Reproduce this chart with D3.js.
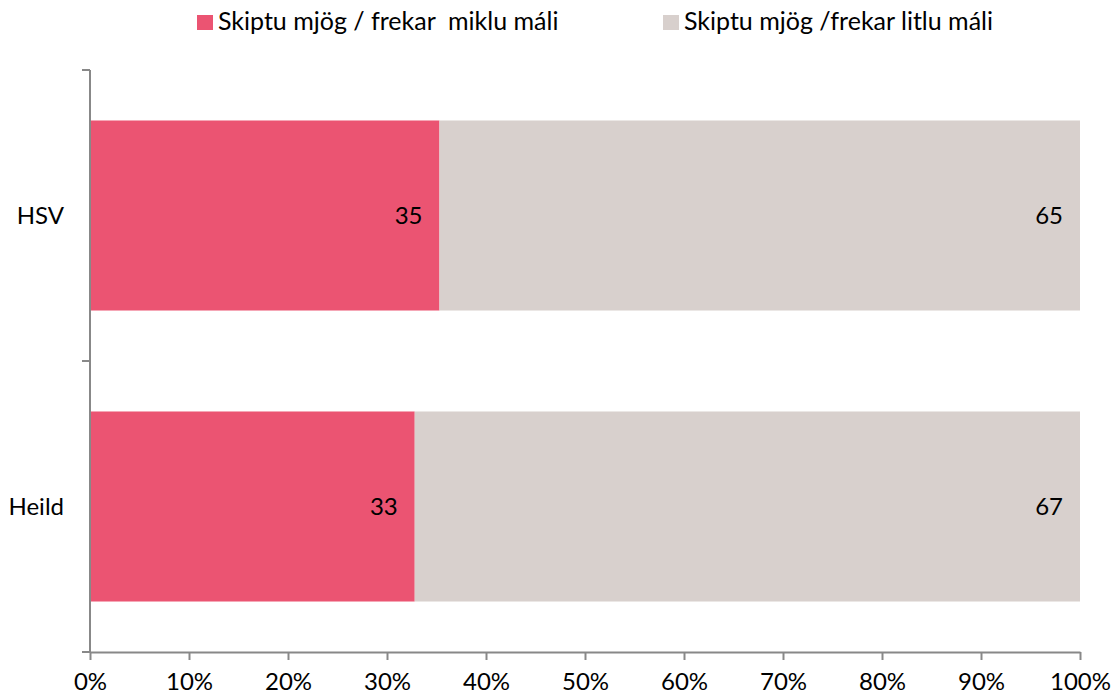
<!DOCTYPE html>
<html><head><meta charset="utf-8">
<script src="https://cdn.jsdelivr.net/npm/d3@7"></script>
<style>body{margin:0;background:#fff}svg{display:block}text{font-family:Lato,"Liberation Sans",Arial,sans-serif;fill:#000;white-space:pre}</style>
</head><body><svg id="c" width="1113" height="696"></svg>
<script>
const categories = ["HSV", "Heild"];
const seriesNames = ["Skiptu mjög / frekar  miklu máli", "Skiptu mjög /frekar litlu máli"];
const seriesHigh = [35.3, 32.8];
const seriesLow = [64.7, 67.2];
const labelsHigh = ["35", "33"];
const labelsLow = ["65", "67"];
const xTicks = [0,10,20,30,40,50,60,70,80,90,100];
const colors = ["#EB5472", "#D8D0CD"];

const svg = d3.select("#c");
const x = d3.scaleLinear().domain([0,100]).range([90,1080]);
const y = d3.scaleBand().domain(categories).range([70,652]).paddingInner(0.347).paddingOuter(0.1735);
const yb = d3.scaleBand().domain(categories).range([70,652]);

const rows = categories.map((c,i)=>({cat:c, vals:[seriesHigh[i], seriesLow[i]], labs:[labelsHigh[i], labelsLow[i]]}));
rows.forEach(r=>{
  let acc=0;
  r.vals.forEach((v,k)=>{
    const x0 = x(acc), x1 = x(acc+v);
    svg.append("rect").attr("x",x0).attr("y",y(r.cat)).attr("width",x1-x0).attr("height",y.bandwidth()).attr("fill",colors[k]);
    svg.append("text").attr("x",x1-17).attr("y",y(r.cat)+y.bandwidth()/2+8).attr("text-anchor","end")
      .attr("font-size",24).text(r.labs[k]);
    acc+=v;
  });
});

// x axis
const gx = svg.append("g").attr("transform","translate(0,652)")
  .call(d3.axisBottom(x).tickValues(xTicks).tickFormat(d=>d+"%").tickSize(8).tickSizeOuter(0));
gx.select(".domain").attr("stroke","#888").attr("stroke-width",2);
gx.selectAll(".tick line").attr("stroke","#888").attr("stroke-width",2);
gx.selectAll(".tick text").attr("font-size",24).attr("fill","#000").attr("y",38).attr("dy",0);

// y axis
svg.append("line").attr("x1",90).attr("x2",90).attr("y1",70).attr("y2",653).attr("stroke","#888").attr("stroke-width",2);
[...categories.map(c=>yb(c)), 652].forEach(v=>{
  svg.append("line").attr("x1",82).attr("x2",90).attr("y1",v).attr("y2",v).attr("stroke","#888").attr("stroke-width",2);
});
categories.forEach(c=>{
  svg.append("text").attr("x",64).attr("y",y(c)+y.bandwidth()/2+8).attr("text-anchor","end")
    .attr("font-size",24).text(c);
});

// legend
const legX = [197, 663];
seriesNames.forEach((n,k)=>{
  svg.append("rect").attr("x",legX[k]).attr("y",15).attr("width",16).attr("height",15).attr("fill",colors[k]);
  svg.append("text").attr("x",legX[k]+21).attr("y",30).attr("font-size",25).text(n);
});
</script></body></html>
